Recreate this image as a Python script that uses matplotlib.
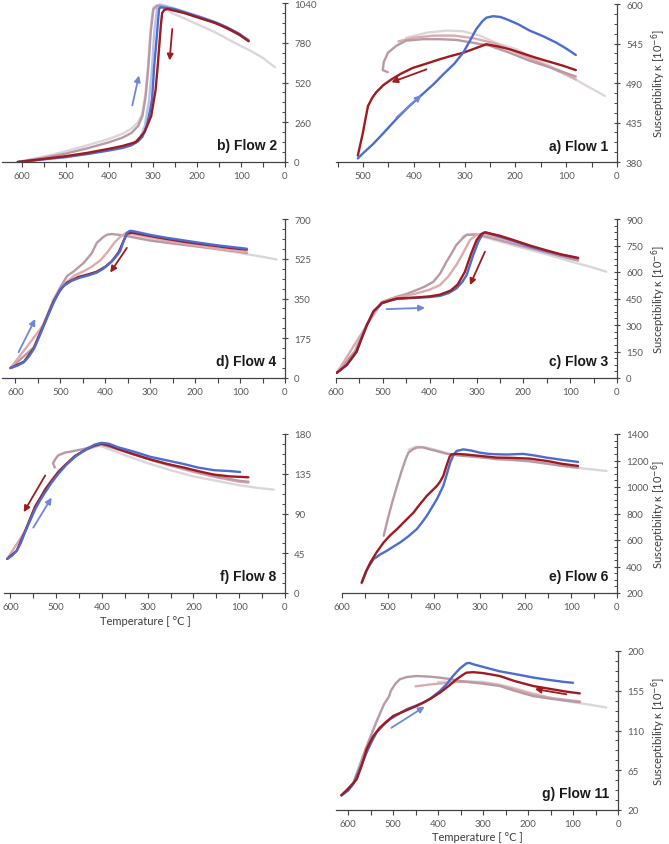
import matplotlib
matplotlib.use("Agg")
import matplotlib.pyplot as plt
from matplotlib.ticker import MultipleLocator, AutoMinorLocator

# ---------------- data (temperature in °C, susceptibility in 1e-6) ----------------
# Panel a) Flow 1
a_heat_T = [510, 500, 480, 460, 434, 410, 385, 360, 342, 320, 303, 290, 277, 265, 257, 244, 230, 218, 195, 172, 145, 119, 100, 81]
a_heat_k = [385, 392, 405, 420, 440, 457, 473, 489, 502, 517, 532, 548, 565, 576, 581, 583, 582, 579, 572, 563, 555, 546, 538, 529]
a_cool_T = [510, 505, 500, 495, 490, 482, 474, 460, 444, 425, 402, 375, 349, 325, 303, 280, 257, 235, 211, 185, 159, 130, 106, 81]
a_cool_k = [389, 405, 421, 440, 458, 469, 477, 487, 495, 503, 511, 517, 523, 528, 532, 538, 544, 541, 537, 531, 525, 519, 514, 508]
a_mau_T = [451, 461, 459, 451, 434, 415, 382, 349, 316, 283, 251, 211, 172, 133, 81]
a_mau_k = [505, 508, 519, 532, 542, 549, 551, 551, 550, 546, 542, 532, 521, 512, 499]
a_pnk_T = [430, 400, 360, 320, 280, 240, 200, 160, 120, 81]
a_pnk_k = [548, 553, 556, 556, 552, 545, 533, 521, 508, 495]
a_lgt_T = [415, 375, 336, 303, 270, 238, 198, 159, 106, 67, 24]
a_lgt_k = [553, 560, 563, 562, 556, 546, 537, 523, 505, 489, 472]

# Panel b) Flow 2
b_heat_T = [609, 580, 550, 500, 450, 400, 370, 350, 335, 325, 315, 308, 303, 298, 294, 290, 287, 284, 270, 253, 230, 193, 160, 132, 105, 83]
b_heat_k = [0, 8, 18, 33, 52, 76, 92, 109, 135, 165, 239, 330, 413, 631, 760, 900, 1001, 1012, 1008, 1001, 980, 947, 915, 881, 840, 794]
b_cool_T = [609, 550, 500, 450, 400, 370, 340, 320, 305, 295, 290, 286, 283, 280, 275, 268, 253, 230, 193, 160, 132, 105, 83]
b_cool_k = [0, 20, 38, 60, 87, 105, 130, 196, 300, 470, 631, 780, 892, 975, 995, 1001, 990, 975, 940, 910, 875, 835, 790]
b_mau_T = [609, 550, 500, 450, 400, 370, 350, 335, 325, 318, 312, 306, 300, 290, 270, 230, 193, 150, 110, 83]
b_mau_k = [0, 28, 55, 90, 130, 160, 190, 235, 300, 420, 600, 850, 1000, 1025, 1010, 975, 945, 900, 840, 795]
b_lbl_T = [609, 500, 400, 350, 330, 320, 310, 303, 298, 292, 285, 270, 230, 193, 150, 110, 83]
b_lbl_k = [0, 30, 80, 115, 160, 230, 400, 620, 850, 1000, 1030, 1020, 985, 950, 905, 845, 800]
b_lgt_T = [609, 550, 500, 450, 400, 370, 350, 335, 325, 318, 312, 308, 304, 300, 295, 280, 253, 230, 193, 160, 117, 80, 50, 23]
b_lgt_k = [0, 35, 70, 110, 152, 185, 218, 260, 320, 450, 631, 800, 940, 1010, 1023, 1010, 968, 940, 892, 850, 783, 730, 680, 620]

# Panel c) Flow 3
c_heat_T = [598, 577, 556, 545, 534, 520, 502, 485, 470, 450, 428, 400, 378, 360, 343, 330, 321, 307, 296, 286, 280, 250, 220, 186, 150, 120, 83]
c_heat_k = [30, 72, 148, 230, 299, 375, 422, 438, 447, 451, 454, 458, 465, 480, 507, 545, 583, 696, 772, 819, 823, 800, 775, 744, 718, 698, 677]
c_cool_T = [598, 577, 556, 534, 520, 502, 470, 428, 400, 378, 355, 340, 325, 312, 300, 290, 282, 250, 220, 186, 150, 120, 83]
c_cool_k = [30, 75, 150, 300, 378, 425, 450, 456, 462, 472, 495, 530, 600, 700, 780, 815, 825, 805, 780, 750, 722, 700, 680]
c_mau_T = [598, 560, 534, 502, 470, 450, 428, 410, 392, 378, 364, 350, 343, 330, 321, 300, 280, 250, 200, 150, 100, 83]
c_mau_k = [30, 150, 305, 431, 460, 475, 498, 518, 545, 590, 658, 720, 753, 790, 810, 813, 800, 780, 745, 710, 675, 665]
c_pnk_T = [598, 534, 502, 470, 428, 400, 378, 360, 343, 330, 314, 300, 286, 250, 200, 150, 100, 83]
c_pnk_k = [30, 300, 428, 455, 479, 500, 526, 575, 640, 700, 781, 810, 815, 790, 755, 718, 685, 675]
c_lgt_T = [330, 321, 300, 280, 250, 200, 150, 100, 60, 23]
c_lgt_k = [800, 812, 810, 795, 772, 735, 700, 660, 632, 602]

# Panel d) Flow 4
d_heat_T = [611, 595, 581, 570, 559, 548, 537, 526, 515, 504, 493, 475, 456, 437, 419, 404, 389, 378, 367, 360, 352, 345, 337, 300, 263, 226, 189, 150, 120, 85]
d_heat_k = [44, 55, 70, 95, 128, 178, 230, 282, 332, 375, 405, 428, 442, 452, 464, 482, 507, 530, 558, 600, 639, 648, 646, 630, 617, 606, 595, 584, 577, 569]
d_cool_T = [611, 581, 559, 537, 515, 500, 485, 460, 440, 419, 400, 385, 370, 360, 352, 340, 300, 263, 226, 189, 150, 120, 85]
d_cool_k = [44, 72, 132, 235, 338, 390, 420, 445, 455, 468, 490, 515, 555, 600, 635, 640, 625, 612, 600, 590, 580, 572, 565]
d_mau_T = [611, 559, 537, 515, 500, 485, 470, 448, 430, 419, 405, 396, 385, 374, 360, 340, 300, 250, 200, 150, 100, 85]
d_mau_k = [44, 135, 240, 345, 400, 449, 470, 507, 550, 595, 620, 631, 634, 631, 628, 620, 605, 592, 580, 568, 555, 550]
d_pnk_T = [611, 537, 515, 493, 470, 448, 430, 410, 395, 380, 365, 352, 300, 250, 200, 150, 100, 85]
d_pnk_k = [44, 235, 345, 410, 450, 470, 490, 520, 555, 595, 625, 640, 620, 600, 585, 570, 558, 555]
d_lgt_T = [352, 300, 250, 200, 150, 100, 60, 19]
d_lgt_k = [632, 612, 596, 582, 566, 550, 537, 522]

# Panel e) Flow 6
e_heat_T = [557, 545, 531, 517, 502, 488, 473, 455, 437, 426, 415, 404, 393, 386, 379, 371, 364, 357, 350, 335, 318, 299, 280, 263, 240, 205, 180, 154, 120, 85]
e_heat_k = [275, 380, 456, 490, 519, 550, 582, 628, 682, 730, 782, 845, 908, 958, 1008, 1100, 1184, 1240, 1272, 1284, 1275, 1259, 1250, 1247, 1245, 1250, 1238, 1222, 1205, 1189]
e_cool_T = [557, 548, 538, 524, 509, 495, 480, 462, 444, 430, 415, 404, 393, 386, 379, 372, 365, 361, 350, 335, 300, 263, 230, 190, 150, 120, 85]
e_cool_k = [280, 360, 431, 510, 582, 635, 682, 745, 807, 870, 933, 970, 1008, 1040, 1084, 1160, 1230, 1247, 1250, 1247, 1235, 1222, 1220, 1214, 1195, 1175, 1159]
e_mau_T = [509, 500, 490, 480, 470, 460, 455, 445, 437, 425, 408, 390, 370, 350, 335, 300, 263, 230, 190, 150, 120, 85]
e_mau_k = [632, 760, 890, 1008, 1120, 1220, 1259, 1285, 1297, 1300, 1284, 1268, 1250, 1240, 1235, 1225, 1210, 1205, 1195, 1175, 1160, 1146]
e_lgt_T = [455, 440, 420, 400, 380, 360, 300, 250, 200, 150, 100, 60, 23]
e_lgt_k = [1280, 1305, 1300, 1285, 1265, 1245, 1225, 1210, 1195, 1175, 1150, 1135, 1121]

# Panel f) Flow 8
f_heat_T = [607, 597, 586, 577, 568, 557, 546, 535, 524, 510, 495, 478, 459, 437, 416, 401, 385, 365, 330, 293, 257, 221, 190, 155, 120, 98]
f_heat_k = [38.6, 42, 48, 57, 69, 82, 95, 105, 114, 125, 135, 145, 154, 162, 168, 170, 169, 165, 160, 154, 150, 146, 142, 139, 138, 137]
f_cool_T = [607, 586, 568, 546, 524, 510, 495, 478, 459, 437, 416, 401, 385, 365, 330, 293, 257, 221, 190, 155, 120, 80]
f_cool_k = [38.6, 48, 70, 98, 117, 127, 137, 146, 155, 162, 167, 169, 167, 163, 157, 151, 146, 142, 138, 134, 132, 131]
f_mau_T = [503, 507, 500, 495, 480, 459, 440, 420, 401, 380, 350, 300, 250, 200, 150, 100, 80]
f_mau_k = [142, 147, 153, 156, 159, 161, 163, 166, 168, 165, 160, 152, 145, 138, 132, 127, 126]
f_pnk_T = [607, 568, 524, 495, 459, 430, 401, 370, 330, 290, 250, 200, 150, 100, 80]
f_pnk_k = [38.6, 70, 118, 138, 155, 163, 168, 164, 157, 150, 144, 137, 131, 126, 125]
f_lgt_T = [401, 380, 350, 300, 250, 200, 150, 100, 60, 25]
f_lgt_k = [166, 162, 156, 147, 139, 132, 127, 122, 119, 117]

# Panel g) Flow 11
g_heat_T = [615, 600, 589, 575, 559, 548, 537, 522, 507, 490, 470, 450, 433, 415, 396, 380, 367, 352, 337, 330, 322, 300, 263, 230, 189, 150, 120, 100]
g_heat_k = [36.6, 42, 49, 65, 85, 97, 107.6, 116, 122.7, 128, 134, 138, 141.5, 147, 154.7, 163, 171.7, 180, 186, 186.5, 185, 182, 177, 174, 170, 167, 165, 164]
g_cool_T = [615, 600, 581, 570, 559, 545, 530, 515, 500, 470, 448, 420, 396, 375, 359, 345, 337, 322, 300, 263, 230, 189, 150, 115, 85]
g_cool_k = [36.6, 44, 54.7, 70, 88.7, 103, 113, 120, 126.4, 133, 137.7, 145, 152.8, 161, 168, 173, 175.5, 176, 175, 171.7, 166, 160.4, 157, 154, 152]
g_mau_T = [615, 589, 559, 537, 520, 511, 508, 505, 495, 485, 470, 448, 420, 396, 370, 352, 300, 263, 230, 189, 150, 120, 85]
g_mau_k = [36.6, 50, 92, 120, 140, 147, 150, 155, 163, 168, 170.5, 171.7, 171, 169.8, 168, 166, 163, 160.4, 155, 149, 146, 144, 142]
g_pnk_T = [450, 420, 400, 380, 360, 330, 300, 263, 230, 189, 150, 120, 85]
g_pnk_k = [160, 162, 163, 164, 165, 165, 164, 161, 157, 151, 147, 145, 143]
g_lgt_T = [400, 350, 300, 263, 230, 189, 150, 100, 60, 26]
g_lgt_k = [165, 166, 165, 162, 158, 152, 147, 142, 139, 136]

# arrows: (tail T, tail k, head T, head k)
a_arrow_blue = (434, 442, 385, 473)
a_arrow_red = (375, 509, 444, 491)
b_arrow_blue = (348, 370, 333, 566)
b_arrow_red = (257, 870, 263, 664)
c_arrow_blue = (492, 390, 410, 397)
c_arrow_red = (282, 715, 314, 526)
d_arrow_blue = (593, 114, 556, 260)
d_arrow_red = (352, 573, 389, 464)
f_arrow_blue = (550, 74, 510, 108)
f_arrow_red = (524, 133, 571, 91.5)
g_arrow_blue = (504, 113, 430, 137)
g_arrow_red = (115, 151, 185, 157)

titles = ["a) Flow 1", "b) Flow 2", "c) Flow 3", "d) Flow 4", "e) Flow 6", "f) Flow 8", "g) Flow 11"]
y_ticks = {
    "a": [380, 435, 490, 545, 600],
    "b": [0, 260, 520, 780, 1040],
    "c": [0, 150, 300, 450, 600, 750, 900],
    "d": [0, 175, 350, 525, 700],
    "e": [200, 400, 600, 800, 1000, 1200, 1400],
    "f": [0, 45, 90, 135, 180],
    "g": [20, 65, 110, 155, 200],
}
x_max = {"a": 553, "b": 645, "c": 600, "d": 630, "e": 600, "f": 614, "g": 627}

# ---------------- style ----------------
BLUE = "#4B6CD1"
RED = "#9E1B20"
MAUVE = "#B89AA5"
PINK = "#DDAAAE"
LIGHT = "#DCD6DC"
LBLUE = "#B7C3E6"
TICKC = "#595959"

W, H = 669, 845
fig = plt.figure(figsize=(W / 100, H / 100), dpi=100)

# axes pixel boxes: (left, right, top, bottom)
boxes = {
    "a": (336, 617, 5, 163), "b": (2, 285, 4, 163),
    "c": (336, 617, 220, 379), "d": (2, 285, 220, 379),
    "e": (342, 617, 435, 594), "f": (4, 285, 435, 594),
    "g": (336, 618, 652, 811),
}

curves = {
    "a": [(a_lgt_T, a_lgt_k, LIGHT), (a_pnk_T, a_pnk_k, PINK), (a_mau_T, a_mau_k, MAUVE),
          (a_cool_T, a_cool_k, RED), (a_heat_T, a_heat_k, BLUE)],
    "b": [(b_lgt_T, b_lgt_k, LIGHT), (b_lbl_T, b_lbl_k, LBLUE), (b_mau_T, b_mau_k, MAUVE),
          (b_heat_T, b_heat_k, BLUE), (b_cool_T, b_cool_k, RED)],
    "c": [(c_lgt_T, c_lgt_k, LIGHT), (c_mau_T, c_mau_k, MAUVE), (c_pnk_T, c_pnk_k, PINK),
          (c_heat_T, c_heat_k, BLUE), (c_cool_T, c_cool_k, RED)],
    "d": [(d_lgt_T, d_lgt_k, LIGHT), (d_mau_T, d_mau_k, MAUVE), (d_pnk_T, d_pnk_k, PINK),
          (d_cool_T, d_cool_k, RED), (d_heat_T, d_heat_k, BLUE)],
    "e": [(e_lgt_T, e_lgt_k, LIGHT), (e_mau_T, e_mau_k, MAUVE),
          (e_heat_T, e_heat_k, BLUE), (e_cool_T, e_cool_k, RED)],
    "f": [(f_lgt_T, f_lgt_k, LIGHT), (f_pnk_T, f_pnk_k, PINK), (f_mau_T, f_mau_k, MAUVE),
          (f_cool_T, f_cool_k, RED), (f_heat_T, f_heat_k, BLUE)],
    "g": [(g_lgt_T, g_lgt_k, LIGHT), (g_pnk_T, g_pnk_k, PINK), (g_mau_T, g_mau_k, MAUVE),
          (g_heat_T, g_heat_k, BLUE), (g_cool_T, g_cool_k, RED)],
}
arrows = {
    "a": [(a_arrow_blue, "#6F87D6"), (a_arrow_red, RED)],
    "b": [(b_arrow_blue, "#6F87D6"), (b_arrow_red, RED)],
    "c": [(c_arrow_blue, "#6F87D6"), (c_arrow_red, RED)],
    "d": [(d_arrow_blue, "#6F87D6"), (d_arrow_red, RED)],
    "e": [],
    "f": [(f_arrow_blue, "#6F87D6"), (f_arrow_red, RED)],
    "g": [(g_arrow_blue, "#6F87D6"), (g_arrow_red, RED)],
}

for key, title in zip("abcdefg", titles):
    l, r, t, b = boxes[key]
    ax = fig.add_axes([l / W, 1 - b / H, (r - l) / W, (b - t) / H])
    for T, k, col in curves[key]:
        ax.plot(T, k, color=col, lw=1.7, solid_capstyle="round", solid_joinstyle="round")
    for (x0, y0, x1, y1), col in arrows[key]:
        ax.annotate("", xy=(x1, y1), xytext=(x0, y0),
                    arrowprops=dict(arrowstyle="-|>", color=col, lw=1.3,
                                    mutation_scale=9, shrinkA=0, shrinkB=0))
    yt = y_ticks[key]
    ax.set_ylim(yt[0], yt[-1])
    ax.set_yticks(yt)
    ax.yaxis.set_minor_locator(AutoMinorLocator(4))
    ax.set_xlim(x_max[key], 0)
    ax.xaxis.set_major_locator(MultipleLocator(100))
    ax.xaxis.set_minor_locator(MultipleLocator(50))
    ax.yaxis.tick_right()
    for s in ("left", "top"):
        ax.spines[s].set_visible(False)
    for s in ("right", "bottom"):
        ax.spines[s].set_color("#444444")
        ax.spines[s].set_linewidth(0.9)
    ax.tick_params(axis="x", which="major", direction="out", length=3.5, width=0.8,
                   colors="#444444", labelcolor=TICKC, labelsize=7, pad=3)
    ax.tick_params(axis="x", which="minor", direction="out", length=3.5, width=0.8, colors="#444444")
    ax.tick_params(axis="y", which="major", direction="inout", length=5, width=0.8,
                   colors="#444444", labelcolor=TICKC, labelsize=7, pad=4)
    ax.tick_params(axis="y", which="minor", direction="in", length=2.5, width=0.7, colors="#444444")
    for lab in ax.get_xticklabels() + ax.get_yticklabels():
        lab.set_fontfamily("Lato")
    ax.patch.set_alpha(0)
    ax.text(0.97, 0.06, title, transform=ax.transAxes, ha="right", va="bottom",
            fontsize=10, fontweight="bold", family="Liberation Sans", color="#1a1a1a")
    if key in "aceg":
        cy = 1 - (t + b) / 2 / H
        fig.text(659 / W, cy, "Susceptibility κ [10$^{-6}$]", rotation=90, ha="center", va="center",
                 fontsize=8, family="Lato", color="#3a3a3a")

fig.text(145 / W, 1 - 622 / H, "Temperature [ °C ]", ha="center", va="center",
         fontsize=8, family="Lato", color="#3a3a3a")
fig.text(477 / W, 1 - 838 / H, "Temperature [ °C ]", ha="center", va="center",
         fontsize=8, family="Lato", color="#3a3a3a")

fig.savefig("out.png", dpi=100)
